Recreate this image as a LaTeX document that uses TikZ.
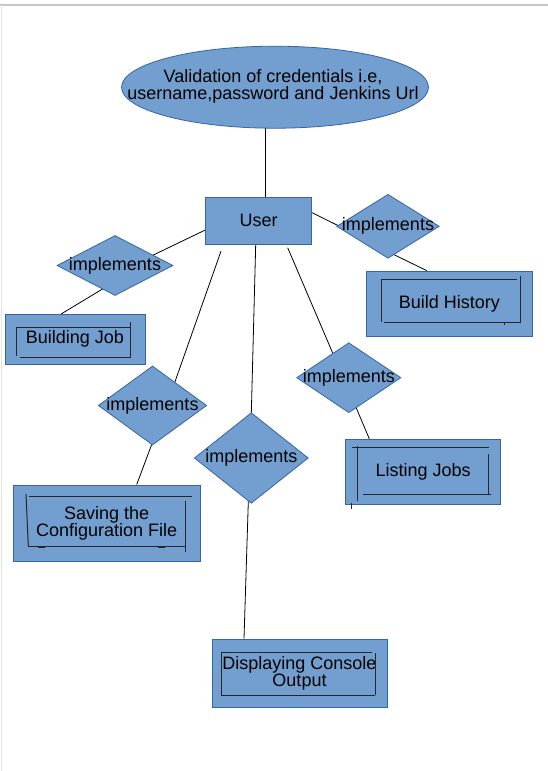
\documentclass[tikz,border=0pt]{standalone}
\usepackage{fontspec}
\setmainfont{Liberation Sans}
\usetikzlibrary{shapes.geometric,calc,backgrounds}
\definecolor{fillblue}{HTML}{729FCF}
\definecolor{edgeblue}{HTML}{3465A4}
\begin{document}
\begin{tikzpicture}[x=1pt,y=-1pt,
  txt/.style={font=\fontsize{18}{16.7}\selectfont, align=center, inner sep=0pt},
  entity/.style={rectangle, fill=fillblue, draw=edgeblue, line width=0.8pt, inner sep=0pt},
  rel/.style={diamond, fill=fillblue, draw=edgeblue, line width=0.8pt, inner sep=0pt},
  attr/.style={ellipse, fill=fillblue, draw=edgeblue, line width=0.8pt, inner sep=0pt},
  conn/.style={draw=black, line width=0.8pt},
  innerline/.style={draw=black!85, line width=1pt}]

\useasboundingbox (0,0) rectangle (548,771);

% nodes
\node[attr, minimum width=307pt, minimum height=82pt] (ell) at (275,87.2) {};
\node[txt] (ellt) at (273,86) {Validation of credentials i.e,\\username,password and Jenkins Url};

\node[entity, txt, minimum width=106pt, minimum height=46.7pt] (user) at (258.7,220.7) {User};

\node[rel, minimum width=116pt, minimum height=60pt] (dBJ) at (115,265.5) {};
\node[txt] (dBJt) at (dBJ) {implements};
\node[rel, minimum width=102.6pt, minimum height=64pt] (dBH) at (388,226.3) {};
\node[txt] (dBHt) at (dBH) {implements};
\node[rel, minimum width=108.4pt, minimum height=79pt] (dSC) at (152.5,405.5) {};
\node[txt] (dSCt) at (dSC) {implements};
\node[rel, minimum width=114pt, minimum height=90.6pt] (dDC) at (251.3,458) {};
\node[txt] (dDCt) at (dDC) {implements};
\node[rel, minimum width=104.3pt, minimum height=70pt] (dLJ) at (348.8,377.7) {};
\node[txt] (dLJt) at (dLJ) {implements};

\node[entity, txt, minimum width=140pt, minimum height=49.5pt] (bj) at (75,339.2) {Building Job};
\node[entity, txt, minimum width=166.7pt, minimum height=65pt] (bh) at (449.3,303.5) {Build History};
\node[entity, txt, minimum width=186.7pt, minimum height=76.7pt] (sc) at (106.7,523.3) {Saving the\\Configuration File};
\node[entity, txt, minimum width=155pt, minimum height=64.8pt] (lj) at (423.2,471.6) {Listing Jobs};
\node[entity, txt, minimum width=175pt, minimum height=68pt] (dc) at (299.5,673) {Displaying Console\\Output};

% inner (double) borders
\draw[innerline] (16.8,327) -- (16.8,356);
\draw[innerline] (16.8,327) -- (129.5,327);
\draw[innerline] (130,321.7) -- (130,358);
\draw[innerline] (20,357) -- (130,357);

\draw[innerline] (381,279) -- (381,322.3);
\draw[innerline] (381,279) -- (517.3,279);
\draw[innerline] (520.7,276) -- (520.7,322.3);
\draw[innerline] (384,322.3) -- (520.7,322.3);
\draw[innerline] (504.3,322) -- (504.3,324.5);

\draw[innerline] (29.3,496.7) -- (191.7,496.7);
\draw[innerline] (26,494) -- (28.3,546);
\draw[innerline] (28.3,546) -- (185,546);
\draw[innerline] (185.3,500.7) -- (185.3,551.7);
\draw[innerline, line width=2pt] (38,546.5) -- (45,546.5);
\draw[innerline, line width=2pt] (158,546.5) -- (165,546.5);

\draw[innerline] (352,447.5) -- (488.5,447.5);
\draw[innerline] (357.5,446) -- (357.5,501);
\draw[innerline] (488.5,454.4) -- (488.5,495);
\draw[innerline] (363,494) -- (491,494);
\draw[innerline] (351.5,503) -- (351.5,509);

\draw[innerline] (221,652) -- (372,652);
\draw[innerline] (221,652) -- (221,695);
\draw[innerline] (375,653) -- (375,695);
\draw[innerline] (221,695) -- (375,695);

% connectors behind the shapes
\begin{pgfonlayer}{background}
\fill[white] (0,0) rectangle (548,771);
\draw[gray!45, line width=1.2pt] (0,5) -- (548,5);
\draw[gray!20, line width=1pt] (1,5) -- (1,771);

\draw[conn] ($(ell.south)+(-10,-2)$) -- ($(user.north)+(6.3,0)$);
\draw[conn] ($(user.west)+(0,9.3)$) -- ($(dBJ.center)+(30,-6.5)$);
\draw[conn] ($(bj.north)+(-14,0)$) -- ($(dBJ.center)+(-5,19)$);
\draw[conn] ($(user.east)+(0,-8)$) -- ($(dBH.center)+(-38,5.2)$);
\draw[conn] ($(bh.north)+(-22.6,0)$) -- ($(dBH.center)+(-3,24)$);
\draw[conn] ($(user.south)+(-37.7,6.7)$) -- ($(dSC.center)+(17.8,-10.5)$);
\draw[conn] ($(sc.north)+(30,0)$) -- ($(dSC.center)+(4.6,24.5)$);
\draw[conn] ($(user.south)+(-3,0)$) -- ($(dDC.center)+(-0.3,-33)$);
\draw[conn] ($(dc.north)+(-55.5,0)$) -- ($(dDC.center)+(-2.3,22)$);
\draw[conn] ($(user.south)+(29,3.3)$) -- ($(dLJ.center)+(-11,-12.7)$);
\draw[conn] ($(lj.north)+(-53.9,0)$) -- ($(dLJ.center)+(2,17.3)$);
\end{pgfonlayer}
\end{tikzpicture}
\end{document}
